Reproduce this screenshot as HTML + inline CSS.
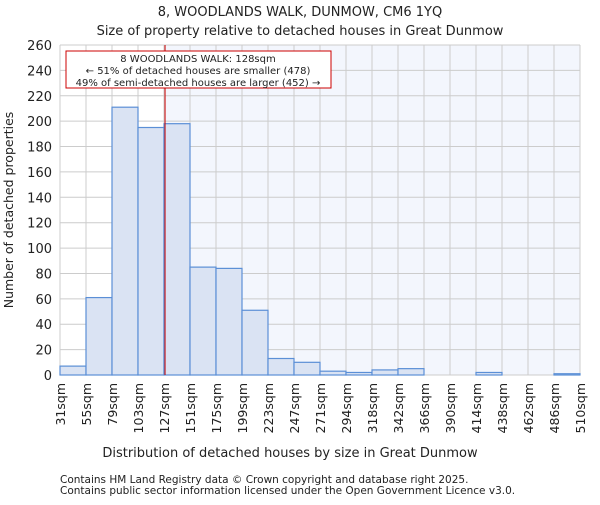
<!DOCTYPE html>
<html><head><meta charset="utf-8"><style>
body{margin:0;background:#fff;font-family:"Liberation Sans","DejaVu Sans",sans-serif}
svg text{font-family:"DejaVu Sans","Liberation Sans",sans-serif;fill:#222}
</style></head><body>
<svg id="c" width="600" height="500"></svg>
<script>
const xLabels=["31sqm","55sqm","79sqm","103sqm","127sqm","151sqm","175sqm","199sqm","223sqm","247sqm","271sqm","294sqm","318sqm","342sqm","366sqm","390sqm","414sqm","438sqm","462sqm","486sqm","510sqm"];
const counts=[7,61,211,195,198,85,84,51,13,10,3,2,4,5,0,0,2,0,0,1];
const yTicks=[0,20,40,60,80,100,120,140,160,180,200,220,240,260];
const markerBin=4.04;
const L=60,R=580,T=45,B=375,YMAX=260;
const bw=(R-L)/counts.length;
const xs=i=>L+i*bw, ys=v=>B-v/YMAX*(B-T);
const svg=document.getElementById('c');const NS="http://www.w3.org/2000/svg";
function mk(t,a,txt){const e=document.createElementNS(NS,t);for(const k in a)e.setAttribute(k,a[k]);if(txt!=null)e.textContent=txt;svg.appendChild(e);return e;}
let e;
const mx=xs(markerBin);
e=mk('rect',{x:L,y:T,width:R-L,height:B-T,fill:'#ffffff'});


e=mk('rect',{x:mx,y:T,width:R-mx,height:B-T,fill:'#f3f6fd'});


yTicks.forEach(v=>{e=mk('line',{x1:L,x2:R,y1:ys(v),y2:ys(v),stroke:'#cccccc'});


e=mk('text',{x:L-8,y:ys(v)+5,'text-anchor':'end','font-size':13},v);

});
xLabels.forEach((s,i)=>{e=mk('line',{x1:xs(i),x2:xs(i),y1:T,y2:B,stroke:'#cccccc'});


e=mk('text',{transform:`translate(${xs(i)+5},${B+8}) rotate(-90)`,'text-anchor':'end','font-size':12.5},s);

});
counts.forEach((v,i)=>{if(v<=0)return;e=mk('rect',{x:xs(i),y:ys(v),width:bw,height:B-ys(v),fill:'#dae3f3',stroke:'#5b8fd6','stroke-width':1.2});

});
e=mk('line',{x1:mx,x2:mx,y1:T,y2:B,stroke:'#cc0000','stroke-width':1});


e=mk('rect',{x:66,y:51,width:265,height:37,fill:'#fff',stroke:'#cc0000'});


[["8 WOODLANDS WALK: 128sqm",62],["← 51% of detached houses are smaller (478)",74],["49% of semi-detached houses are larger (452) →",86]].forEach(a=>{e=mk('text',{x:198,y:a[1],'text-anchor':'middle','font-size':10},a[0]);

});
e=mk('text',{x:300,y:16,'text-anchor':'middle','font-size':13},'8, WOODLANDS WALK, DUNMOW, CM6 1YQ');


e=mk('text',{x:300,y:35,'text-anchor':'middle','font-size':13},'Size of property relative to detached houses in Great Dunmow');


e=mk('text',{x:290,y:457,'text-anchor':'middle','font-size':13},'Distribution of detached houses by size in Great Dunmow');


e=mk('text',{transform:'translate(13,210) rotate(-90)','text-anchor':'middle','font-size':12.5},'Number of detached properties');


e=mk('text',{x:60,y:483,'font-size':10.5,fill:'#555'},'Contains HM Land Registry data © Crown copyright and database right 2025.');


e=mk('text',{x:60,y:494,'font-size':10.5,fill:'#555'},'Contains public sector information licensed under the Open Government Licence v3.0.');


</script>
</body></html>
